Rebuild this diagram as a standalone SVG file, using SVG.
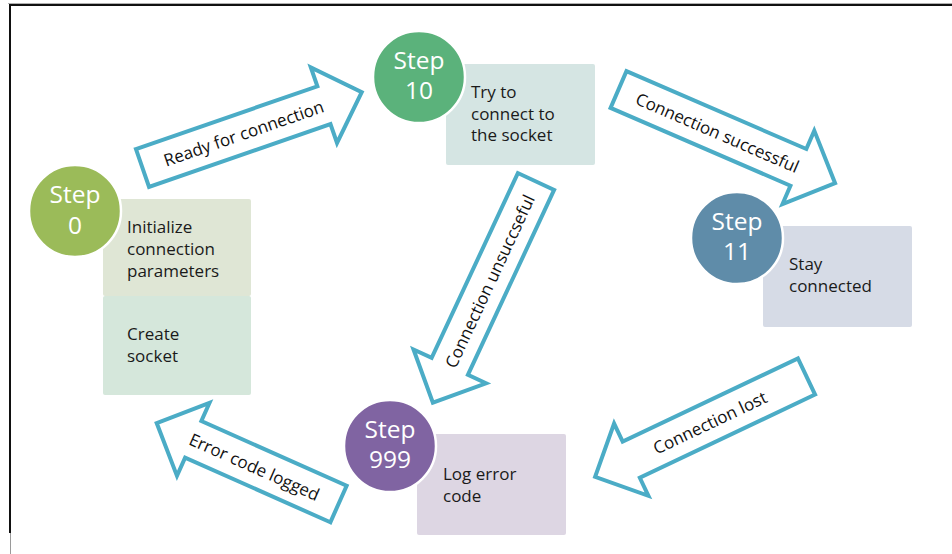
<svg xmlns="http://www.w3.org/2000/svg" width="952" height="554" viewBox="0 0 952 554">
  <style>
    .body { font-family: "Open Sans", "Liberation Sans", sans-serif; font-size: 17px; fill: #1a1a1a; }
    .step { font-family: "Open Sans", "Liberation Sans", sans-serif; font-size: 24.5px; fill: #ffffff; text-anchor: middle; }
    .lbl { font-family: "Open Sans", "Liberation Sans", sans-serif; font-size: 17px; fill: #111111; text-anchor: middle; dominant-baseline: central; }
    .ring { stroke: #ffffff; stroke-width: 2.5; }
    .arrow { fill: #ffffff; stroke: #4bacc6; stroke-width: 4; stroke-linejoin: miter; }
  </style>

  <rect width="952" height="554" fill="#ffffff"/>

  <!-- page frame -->
  <line x1="8" y1="3.5" x2="952" y2="3.5" stroke="#b0b0b0" stroke-width="1"/>
  <line x1="9" y1="5" x2="952" y2="5" stroke="#111111" stroke-width="2"/>
  <line x1="10" y1="4" x2="10" y2="533" stroke="#111111" stroke-width="2"/>
  <line x1="10.5" y1="533" x2="10.5" y2="554" stroke="#9a9a9a" stroke-width="1"/>

  <!-- connectors: block arrows, drawn along +x then rotated -->
  <g id="connectors">
    <g transform="translate(142.5,168) rotate(-19.1)">
      <path class="arrow" d="M0,-20 H192 V-40 L232,0 L192,40 V20 H0 Z"/>
    </g>
    <text class="lbl" transform="translate(243.6,133) rotate(-19.1)">Ready for connection</text>

    <g transform="translate(618.5,89.5) rotate(23.4)">
      <path class="arrow" d="M0,-20 H196 V-40 L236,0 L196,40 V20 H0 Z"/>
    </g>
    <text class="lbl" transform="translate(717.6,132.4) rotate(23.4)">Connection successful</text>

    <g transform="translate(536,181.5) rotate(115)">
      <path class="arrow" d="M0,-20 H204 V-40 L244,0 L204,40 V20 H0 Z"/>
    </g>
    <text class="lbl" transform="translate(489.5,281.2) rotate(-65)">Connection unsuccseful</text>

    <g transform="translate(806.5,376.5) rotate(154.6)">
      <path class="arrow" d="M0,-20 H194 V-40 L234,0 L194,40 V20 H0 Z"/>
    </g>
    <text class="lbl" transform="translate(709.8,422.4) rotate(-25.4)">Connection lost</text>

    <g transform="translate(338.5,504) rotate(204)">
      <path class="arrow" d="M0,-20 H159 V-40 L199,0 L159,40 V20 H0 Z"/>
    </g>
    <text class="lbl" transform="translate(254.5,466.6) rotate(24)">Error code logged</text>
  </g>

  <!-- Step 0 -->
  <g id="step0">
    <rect x="103" y="199" width="148" height="97" rx="2" fill="#dfe6d5"/>
    <rect x="103" y="296" width="148" height="99" rx="2" fill="#d5e7db"/>
    <text class="body" x="127" y="233">Initialize</text>
    <text class="body" x="127" y="255">connection</text>
    <text class="body" x="127" y="277">parameters</text>
    <text class="body" x="127" y="340">Create</text>
    <text class="body" x="127" y="362">socket</text>
    <circle class="ring" cx="75" cy="211" r="46" fill="#9bbb59"/>
    <text class="step" x="75" y="203">Step</text>
    <text class="step" x="75" y="234">0</text>
  </g>

  <!-- Step 10 -->
  <g id="step10">
    <rect x="446" y="64" width="149" height="101" rx="2" fill="#d5e5e3"/>
    <text class="body" x="471" y="98">Try to</text>
    <text class="body" x="471" y="120">connect to</text>
    <text class="body" x="471" y="141">the socket</text>
    <circle class="ring" cx="419" cy="77" r="46" fill="#5bb27b"/>
    <text class="step" x="419" y="69">Step</text>
    <text class="step" x="419" y="99">10</text>
  </g>

  <!-- Step 11 -->
  <g id="step11">
    <rect x="763" y="226" width="149" height="101" rx="2" fill="#d6dbe6"/>
    <text class="body" x="789" y="270">Stay</text>
    <text class="body" x="789" y="292">connected</text>
    <circle class="ring" cx="737" cy="238" r="46" fill="#5f8ca9"/>
    <text class="step" x="737" y="230">Step</text>
    <text class="step" x="737" y="260">11</text>
  </g>

  <!-- Step 999 -->
  <g id="step999">
    <rect x="417" y="434" width="149" height="101" rx="2" fill="#ddd6e3"/>
    <text class="body" x="443" y="480">Log error</text>
    <text class="body" x="443" y="502">code</text>
    <circle class="ring" cx="390" cy="446" r="46" fill="#8064a2"/>
    <text class="step" x="390" y="438">Step</text>
    <text class="step" x="390" y="468">999</text>
  </g>
</svg>
